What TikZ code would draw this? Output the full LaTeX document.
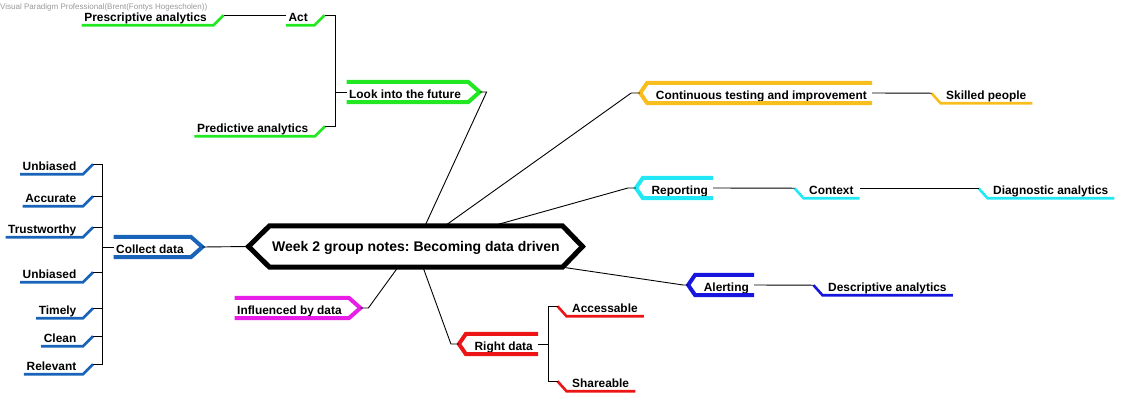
\documentclass[tikz,border=0pt]{standalone}
\usepackage{fontspec}
\setmainfont{Liberation Sans}
\frenchspacing

\definecolor{cdblue}{RGB}{25,100,185}
\definecolor{futgreen}{RGB}{34,232,34}
\definecolor{inflmag}{RGB}{232,30,232}
\definecolor{rdred}{RGB}{236,20,20}
\definecolor{contorange}{RGB}{248,190,30}
\definecolor{repcyan}{RGB}{34,232,245}
\definecolor{alrblue}{RGB}{22,22,222}

\begin{document}
\begin{tikzpicture}[x=1pt,y=-1pt,
    txt/.style={font=\bfseries\fontsize{11.9}{14}\selectfont,inner xsep=2.5pt,inner ysep=0pt,text height=16pt,text depth=4pt},
    leaf/.style={line width=2.6pt},
    tag/.style={line width=4pt},
    link/.style={line width=0.9pt}]
    \useasboundingbox (0,0) rectangle (1124,400);
    \node[anchor=west,inner sep=0pt,text=black!40,font=\fontsize{8}{9}\selectfont] (vp) at (0,7) {Visual Paradigm Professional(Brent(Fontys Hogescholen))};

    % central topic
    \node[font=\bfseries\fontsize{14}{16}\selectfont,inner xsep=2.5pt,inner ysep=0pt,minimum height=41pt,text height=10pt,text depth=0pt] (week) at (416,246.5) {Week 2 group notes: Becoming data driven};
    \draw[line width=5pt] (week.north west) -- (week.north east) -- ([xshift=20pt]week.east) -- (week.south east) -- (week.south west) -- ([xshift=-21pt]week.west) -- cycle;

    % main branches
    \node[txt,anchor=west] (coll) at (113.5,247) {Collect data};
    \node[txt,anchor=west] (look) at (346.5,92) {Look into the future};
    \node[txt,anchor=west] (infl) at (234.5,308) {Influenced by data};
    \node[txt,anchor=east] (cont) at (869.5,93) {Continuous testing and improvement};
    \node[txt,anchor=east] (rep) at (710.5,188) {Reporting};
    \node[txt,anchor=east] (alr) at (751.5,285) {Alerting};
    \node[txt,anchor=east] (rd) at (535.5,344) {Right data};

    \foreach \n/\col in {coll/cdblue,look/futgreen,infl/inflmag}
        \draw[tag,color=\col] (\n.north west) -- ([xshift=4.5pt]\n.north east) -- ([xshift=16pt]\n.east) coordinate (\n-t) -- ([xshift=4.5pt]\n.south east) -- (\n.south west);
    \foreach \n/\col in {cont/contorange,rep/repcyan,alr/alrblue,rd/rdred}
        \draw[tag,color=\col] ([xshift=2.5pt]\n.north east) -- ([xshift=-6pt]\n.north west) -- ([xshift=-13pt]\n.west) coordinate (\n-t) -- ([xshift=-6pt]\n.south west) -- ([xshift=2.5pt]\n.south east);

    % leaves, left side
    \foreach \n/\t/\y in {unb1/Unbiased/164,acc/Accurate/196,tru/Trustworthy/227,unb2/Unbiased/272,tim/Timely/308,cle/Clean/336,rel/Relevant/364}
        \node[txt,anchor=east] (\n) at (79,\y) {\t};
    \node[txt,anchor=east] (pres) at (209.5,15) {Prescriptive analytics};
    \node[txt,anchor=east] (act) at (310.5,15) {Act};
    \node[txt,anchor=east] (pred) at (311,126) {Predictive analytics};

    % leaves, right side
    \node[txt,anchor=west] (skl) at (943.5,93) {Skilled people};
    \node[txt,anchor=west] (ctx) at (806.5,188) {Context};
    \node[txt,anchor=west] (dia) at (990.5,188) {Diagnostic analytics};
    \node[txt,anchor=west] (des) at (825.5,285) {Descriptive analytics};
    \node[txt,anchor=west] (acs) at (569.5,306) {Accessable};
    \node[txt,anchor=west] (sha) at (569.5,381) {Shareable};

    \foreach \n/\col in {unb1/cdblue,acc/cdblue,tru/cdblue,unb2/cdblue,tim/cdblue,cle/cdblue,rel/cdblue,pres/futgreen,act/futgreen,pred/futgreen}
        \draw[leaf,color=\col] (\n.south west) -- ([xshift=4pt]\n.south east) -- ++(10,-10) coordinate (\n-p);
    \foreach \n/\col in {skl/contorange,ctx/repcyan,dia/repcyan,des/alrblue,acs/rdred,sha/rdred}
        \draw[leaf,color=\col] ([xshift=3.5pt]\n.south east) coordinate (\n-e) -- ([xshift=-3pt]\n.south west) -- ++(-9,-10) coordinate (\n-p);

    % connectors
    \draw[link] (coll.west) -- ++(-11,0) coordinate (ct);
    \foreach \n in {unb1,acc,tru,unb2,tim,cle,rel}
        \draw[link] (\n-p) -| (ct);
    \draw[link] (look.west) -- ++(-11.5,0) coordinate (gt);
    \foreach \n in {act,pred}
        \draw[link] (\n-p) -| (gt);
    \draw[link] (pres-p) -- (pres-p -| act.west);
    \draw[link] ([xshift=2.5pt]rd.east) -- ++(10,0) coordinate (rt);
    \foreach \n in {acs,sha}
        \draw[link] (rt) |- (\n-p);
    \draw[link] ([xshift=2.5pt]cont.east) -- (skl-p);
    \draw[link] ([xshift=2.5pt]rep.east) -- (ctx-p);
    \draw[link] (ctx-e |- ctx-p) -- (dia-p);
    \draw[link] ([xshift=2.5pt]alr.east) -- (des-p);

    \draw[link] (coll-t) -- ([xshift=-21pt]week.west);
    \draw[link] (look-t) -- ++(7,0) -- ([xshift=9pt]week.north);
    \draw[link] (cont-t) -- ++(-9,0) -- ([xshift=29pt]week.north);
    \draw[link] (rep-t) -- ++(-8,0) -- ([xshift=77pt]week.north);
    \draw[link] (alr-t) -- ++(-5,0) -- (week.south east);
    \draw[link] (infl-t) -- ++(8,0) -- ([xshift=-18pt]week.south);
    \draw[link] (rd-t) -- ++(-8,0) -- ([xshift=7pt]week.south);
\end{tikzpicture}
\end{document}
